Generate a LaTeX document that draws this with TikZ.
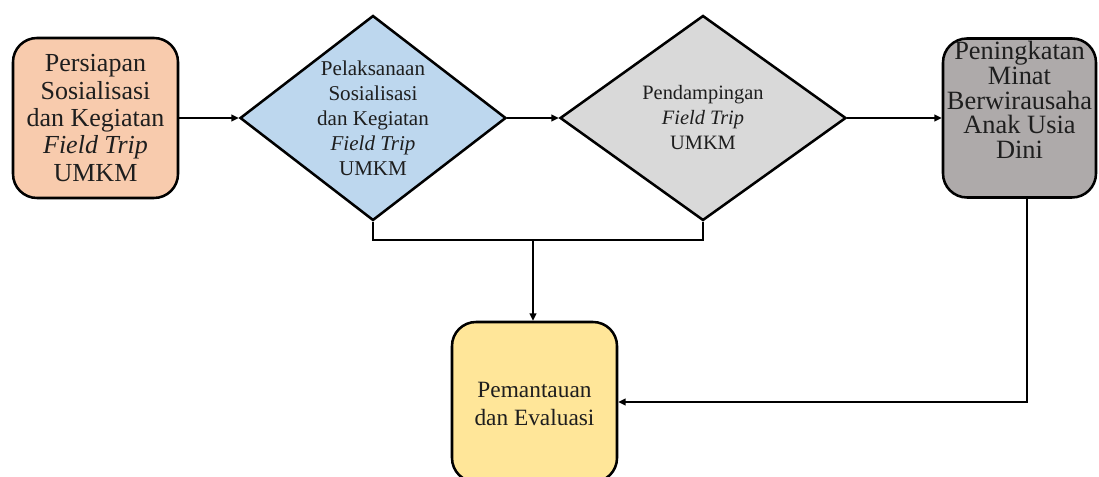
\documentclass[tikz,border=0pt]{standalone}
\usepackage{fontspec}
\setmainfont{Liberation Serif}
\usetikzlibrary{shapes.geometric,arrows.meta}
\definecolor{peach}{HTML}{F8CBAD}
\definecolor{lblue}{HTML}{BDD7EE}
\definecolor{lgray}{HTML}{D9D9D9}
\definecolor{mgray}{HTML}{AEAAAA}
\definecolor{lyellow}{HTML}{FFE699}
\definecolor{txt}{HTML}{1E1E1E}
\tikzset{
  rbox/.style={draw=black, line width=1.9pt, rounded corners=18pt, inner sep=0pt},
  dia/.style={draw=black, line width=1.9pt, diamond, inner sep=0pt},
  lbl/.style={align=center, text=txt, inner sep=0pt},
  conn/.style={draw=black, line width=1.4pt},
  arr/.style={conn, -{Triangle[length=5.5pt,width=5pt]}},
}
\begin{document}
\begin{tikzpicture}[x=0.75pt,y=-0.75pt]
\useasboundingbox (0,0) rectangle (1099,477);
\clip (0,0) rectangle (1099,477);
% shapes
\node[rbox, fill=peach, minimum width=123.75pt, minimum height=120pt] (b1) at (95.5,118) {};
\node[dia, fill=lblue, minimum width=199.5pt, minimum height=153.75pt] (d1) at (373,118) {};
\node[dia, fill=lgray, minimum width=214.5pt, minimum height=153.75pt] (d2) at (703,118) {};
\node[rbox, fill=mgray, minimum width=114.75pt, minimum height=119.25pt] (b4) at (1019.5,118) {};
\node[rbox, fill=lyellow, minimum width=123.75pt, minimum height=120pt] (b5) at (534.5,402) {};
% texts
\node[lbl, font=\fontsize{19.5}{20.6}\selectfont] (t1) at (b1.center) {Persiapan\\Sosialisasi\\dan Kegiatan\\\textit{Field Trip}\\UMKM};
\node[lbl, font=\fontsize{15.8}{18.75}\selectfont] (t2) at (d1.center) {Pelaksanaan\\Sosialisasi\\dan Kegiatan\\\textit{Field Trip}\\UMKM};
\node[lbl, font=\fontsize{15.3}{18.75}\selectfont] (t3) at (d2.center) {Pendampingan\\\textit{Field Trip}\\UMKM};
\node[lbl, font=\fontsize{19.8}{18.6}\selectfont] (t4) at (1019.5,100) {Peningkatan\\Minat\\Berwirausaha\\Anak Usia\\Dini};
\node[lbl, font=\fontsize{17.5}{21}\selectfont] (t5) at (534.5,404) {Pemantauan\\dan Evaluasi};
% connectors
\coordinate (jl) at (373,240);
\coordinate (jr) at (703,240);
\coordinate (jm) at (533,240);
\draw[arr] (b1.east) -- (d1.west);
\draw[arr] (d1.east) -- (d2.west);
\draw[arr] (d2.east) -- (b4.west);
\draw[conn] (d1.south) -- (jl) -- (jr) -- (d2.south);
\draw[arr] (jm) -- (jm |- b5.north);
\draw[arr] ([xshift=5.6pt]b4.south) |- (b5.east);
\end{tikzpicture}
\end{document}
